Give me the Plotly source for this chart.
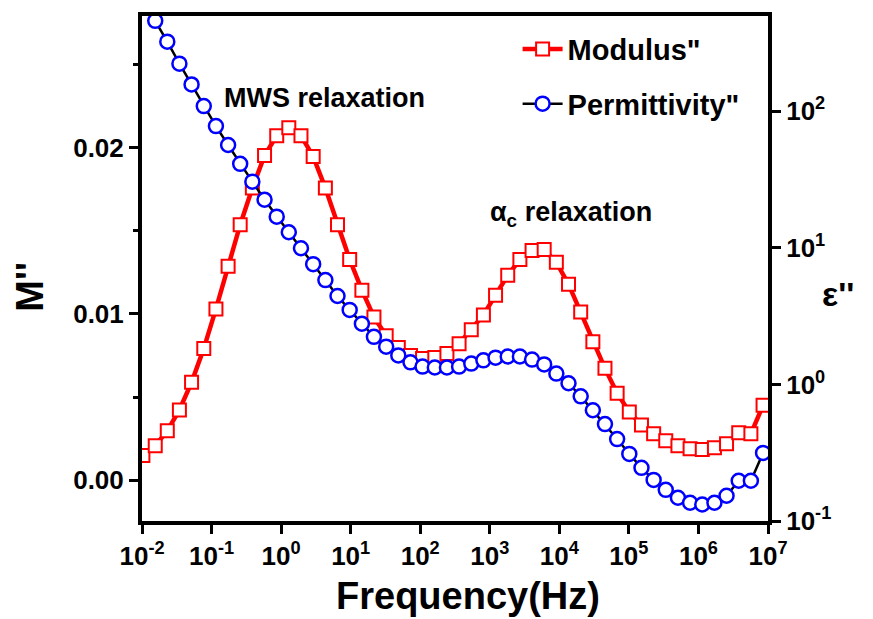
import plotly.graph_objects as go

# Frequency (Hz)
freq = [0.0103, 0.0155, 0.0231, 0.0345, 0.0516, 0.0773, 0.1156, 0.173, 0.258, 0.386,
        0.578, 0.865, 1.29, 1.93, 2.89, 4.33, 6.47, 9.68, 14.5, 21.6,
        32.4, 48.4, 72.4, 108, 162, 242, 362, 542, 810, 1211,
        1811, 2710, 4055, 6055, 9060, 13550, 20280, 30340, 45290, 67760,
        101400, 151700, 227000, 338800, 507000, 758600, 1135000, 1698000, 2535000, 3793000,
        5675000, 8492000]

# Electric modulus M''
modulus = [0.00149, 0.00208, 0.00298, 0.00423, 0.00589, 0.00792, 0.01030, 0.01286, 0.01536, 0.01756,
           0.01952, 0.02071, 0.02119, 0.02071, 0.01946, 0.01756, 0.01536, 0.01327, 0.01143, 0.00982,
           0.00869, 0.00798, 0.00750, 0.00732, 0.00738, 0.00762, 0.00821, 0.00905, 0.00994, 0.01113,
           0.01232, 0.01327, 0.01381, 0.01387, 0.01310, 0.01179, 0.01012, 0.00833, 0.00673, 0.00524,
           0.00411, 0.00333, 0.00280, 0.00238, 0.00208, 0.00190, 0.00185, 0.00196, 0.00220, 0.00286,
           0.00280, 0.00452]

# Dielectric loss eps''
permittivity = [653, 459, 323, 223, 157, 109, 77.8, 56.6, 41.2, 30.5,
                22.5, 16.9, 13.0, 9.92, 7.59, 5.80, 4.44, 3.51, 2.78, 2.23,
                1.89, 1.63, 1.45, 1.35, 1.33, 1.33, 1.35, 1.42, 1.50, 1.57,
                1.60, 1.60, 1.52, 1.40, 1.20, 1.02, 0.818, 0.647, 0.512, 0.398,
                0.310, 0.245, 0.200, 0.169, 0.148, 0.136, 0.132, 0.136, 0.153, 0.197,
                0.197, 0.315]

# Tick values and labels
x_tickvals = [1e-2, 1e-1, 1e0, 1e1, 1e2, 1e3, 1e4, 1e5, 1e6, 1e7]
x_ticktext = ["10<sup>-2</sup>", "10<sup>-1</sup>", "10<sup>0</sup>", "10<sup>1</sup>", "10<sup>2</sup>",
              "10<sup>3</sup>", "10<sup>4</sup>", "10<sup>5</sup>", "10<sup>6</sup>", "10<sup>7</sup>"]
y_tickvals = [0.00, 0.01, 0.02]
y_ticktext = ["0.00", "0.01", "0.02"]
y2_tickvals = [1e-1, 1e0, 1e1, 1e2]
y2_ticktext = ["10<sup>-1</sup>", "10<sup>0</sup>", "10<sup>1</sup>", "10<sup>2</sup>"]

FONT = "Liberation Sans, Arial, sans-serif"

fig = go.Figure()
fig.add_trace(go.Scatter(
    x=freq, y=modulus, name='Modulus"', mode="lines+markers",
    line=dict(color="#ff0000", width=4.5),
    marker=dict(symbol="square", size=13, color="white", line=dict(color="#ff0000", width=2)),
    legendgroup="a", yaxis="y"))
fig.add_trace(go.Scatter(
    x=freq, y=permittivity, name='Permittivity"', mode="lines+markers",
    line=dict(color="black", width=2.5),
    marker=dict(symbol="circle", size=14, color="white", line=dict(color="#0000ff", width=2.5)),
    legendgroup="b", yaxis="y2"))

tickfont = dict(family=FONT, size=26, color="black", weight="bold")

fig.update_layout(
    width=873, height=619,
    margin=dict(l=142, r=105, t=12, b=98),
    paper_bgcolor="white", plot_bgcolor="white",
    showlegend=True,
    legend=dict(x=0.60, y=0.985, xanchor="left", yanchor="top",
                font=dict(family=FONT, size=29, color="black", weight="bold"),
                bgcolor="rgba(0,0,0,0)", tracegroupgap=14, itemwidth=40),
    xaxis=dict(type="log", range=[-2, 7], tickmode="array", tickvals=x_tickvals, ticktext=x_ticktext,
               showline=True, linecolor="black", linewidth=4, mirror=True,
               ticks="outside", ticklen=9, tickwidth=3, tickcolor="black",
               showgrid=False, zeroline=False, tickfont=tickfont),
    yaxis=dict(range=[-0.00244, 0.0279], tickmode="array", tickvals=y_tickvals, ticktext=y_ticktext,
               showline=True, linecolor="black", linewidth=4, mirror=True,
               ticks="outside", ticklen=9, tickwidth=3, tickcolor="black",
               minor=dict(tickmode="linear", tick0=0, dtick=0.005, ticks="outside", ticklen=5,
                          tickwidth=3, tickcolor="black"),
               showgrid=False, zeroline=False, tickfont=tickfont),
    yaxis2=dict(type="log", range=[-1, 2.697], tickmode="array", tickvals=y2_tickvals, ticktext=y2_ticktext,
                overlaying="y", side="right",
                showline=True, linecolor="black", linewidth=4,
                ticks="outside", ticklen=9, tickwidth=3, tickcolor="black",
                showgrid=False, zeroline=False, tickfont=tickfont),
    annotations=[
        dict(text="MWS relaxation", x=0.292, y=0.837, xref="paper", yref="paper",
             xanchor="center", yanchor="middle",
             showarrow=False, font=dict(family=FONT, size=27, color="black", weight="bold")),
        dict(text="α<sub>c</sub> relaxation", x=0.685, y=0.607, xref="paper", yref="paper",
             xanchor="center", yanchor="middle",
             showarrow=False, font=dict(family=FONT, size=27, color="black", weight="bold")),
        dict(text="M''", x=-0.179, y=0.464, xref="paper", yref="paper", textangle=-90,
             xanchor="center", yanchor="middle",
             showarrow=False, font=dict(family=FONT, size=38, color="black", weight="bold")),
        dict(text="ε''", x=1.112, y=0.45, xref="paper", yref="paper",
             xanchor="center", yanchor="middle",
             showarrow=False, font=dict(family=FONT, size=34, color="black", weight="bold")),
        dict(text="Frequency(Hz)", x=0.521, y=-0.149, xref="paper", yref="paper",
             xanchor="center", yanchor="middle",
             showarrow=False, font=dict(family=FONT, size=38, color="black", weight="bold")),
    ],
)

fig.write_html("out.html")
